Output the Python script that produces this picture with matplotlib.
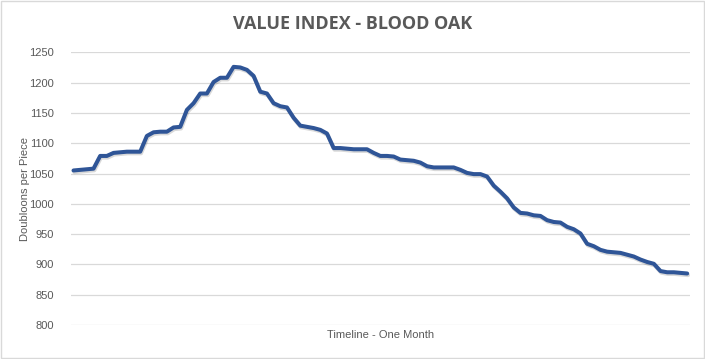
import numpy as np
import matplotlib
matplotlib.use('Agg')
import matplotlib.pyplot as plt
import matplotlib.patheffects as pe
from matplotlib.patches import Rectangle

# doubloons per piece, one reading per step across the month
values = [1055, 1056, 1057, 1058, 1079, 1079, 1084, 1085, 1086, 1086,
          1086, 1112, 1118, 1119, 1119, 1126, 1127, 1155, 1166, 1182,
          1182, 1201, 1208, 1208, 1226, 1225, 1221, 1211, 1185, 1182,
          1166, 1161, 1159, 1142, 1129, 1127, 1125, 1122, 1116, 1092,
          1092, 1091, 1090, 1090, 1090, 1084, 1079, 1079, 1078, 1073,
          1072, 1071, 1068, 1062, 1060, 1060, 1060, 1060, 1056, 1051,
          1049, 1049, 1045, 1030, 1020, 1009, 994, 985, 984, 981,
          980, 973, 970, 969, 962, 958, 951, 934, 930, 924,
          921, 920, 919, 916, 913, 908, 904, 901, 889, 887,
          887, 886, 885]
yticks = [800, 850, 900, 950, 1000, 1050, 1100, 1150, 1200, 1250]

title = 'VALUE INDEX - BLOOD OAK'
xlabel = 'Timeline - One Month'
ylabel = 'Doubloons per Piece'

gray = '#595959'
lab_font = ['Liberation Sans', 'DejaVu Sans']

fig = plt.figure(figsize=(7.05, 3.59), dpi=100)
ax = fig.add_axes([0.1, 0.0947, 0.879, 0.7596])

x = np.arange(len(values))
ax.plot(x, values, color='#2F5597', lw=2.9, solid_joinstyle='round',
        solid_capstyle='round',
        path_effects=[pe.SimpleLineShadow(offset=(0.6, -1.2), shadow_color='k', alpha=0.15),
                      pe.Normal()])

ax.set_xlim(-0.45, len(values) - 0.55)
ax.set_ylim(800, 1250)
ax.set_yticks(yticks)
ax.set_xticks([])
ax.grid(axis='y', color='#D9D9D9', lw=0.9)
ax.set_axisbelow(True)
for s in ax.spines.values():
    s.set_visible(False)
ax.tick_params(axis='y', length=0, pad=12, labelcolor=gray, labelsize=8)
for lab in ax.get_yticklabels():
    lab.set_family(lab_font)

ax.set_xlabel(xlabel, color=gray, fontsize=8, family=lab_font)
ax.xaxis.set_label_coords(0.501, -0.037)
ax.xaxis.label.set_va('center')
ax.set_ylabel(ylabel, color=gray, fontsize=8, family=lab_font)
ax.yaxis.set_label_coords(-0.0735, 0.5)
ax.yaxis.label.set_va('center')
fig.text(0.5, 0.934, title, ha='center', va='center', fontsize=13,
         fontweight='bold', color=gray, family=['Open Sans', 'DejaVu Sans'])

fig.patches.append(Rectangle((0.001, 0.002), 0.997, 0.995, transform=fig.transFigure,
                             fill=False, edgecolor='#D9D9D9', lw=1))

fig.savefig('out.png', dpi=100)
